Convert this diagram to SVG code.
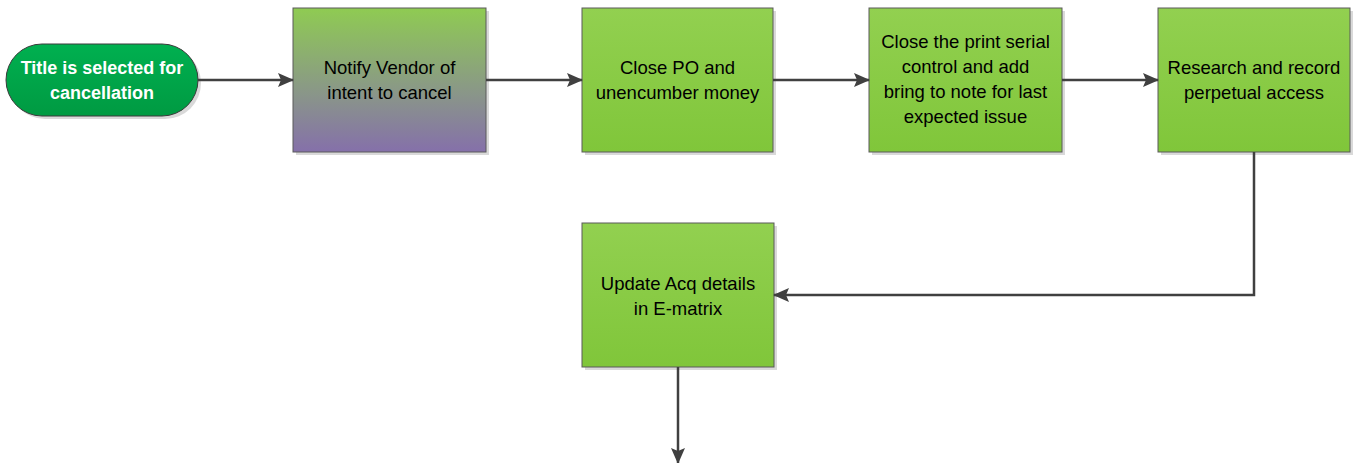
<svg xmlns="http://www.w3.org/2000/svg" width="1353" height="463" viewBox="0 0 1353 463">
<defs>
<linearGradient id="gGreen" x1="0" y1="0" x2="0" y2="1">
<stop offset="0" stop-color="#92D050"/>
<stop offset="1" stop-color="#80C63A"/>
</linearGradient>
<linearGradient id="gPurple" x1="0" y1="0" x2="0" y2="1">
<stop offset="0" stop-color="#8FCB52"/>
<stop offset="0.55" stop-color="#8A9A85"/>
<stop offset="1" stop-color="#8570AA"/>
</linearGradient>
<linearGradient id="gTerm" x1="0" y1="0" x2="0" y2="1">
<stop offset="0" stop-color="#00B050"/>
<stop offset="1" stop-color="#009A42"/>
</linearGradient>
<marker id="arr" markerWidth="16" markerHeight="14" refX="15" refY="7" orient="auto" markerUnits="userSpaceOnUse">
<path d="M0,0 L16,7 L0,14 L3,7 Z" fill="#404040"/>
</marker>
<style>
.box{stroke:#5a5a5a;stroke-width:1}
.shadow{fill:#d9d9d9}
.lbl{font-family:"Liberation Sans",Arial,sans-serif;font-size:18.5px;fill:#000;text-anchor:middle}
.tlbl{font-family:"Liberation Sans",Arial,sans-serif;font-size:18px;font-weight:bold;fill:#fff;text-anchor:middle}
.conn{fill:none;stroke:#404040;stroke-width:2.5}
</style>
</defs>
<g id="n-start">
<rect class="shadow" x="9" y="47" width="192" height="72" rx="36"/>
<rect x="6" y="44" width="192" height="72" rx="36" fill="url(#gTerm)" stroke="#3a3a3a" stroke-width="1"/>
<text class="tlbl" x="102" y="74">Title is selected for</text>
<text class="tlbl" x="102" y="99">cancellation</text>
</g>
<g id="n-notify">
<rect class="shadow" x="296" y="11" width="193" height="144"/>
<rect class="box" x="293" y="8" width="193" height="144" fill="url(#gPurple)"/>
<text class="lbl" x="389.5" y="74">Notify Vendor of</text>
<text class="lbl" x="389.5" y="99">intent to cancel</text>
</g>
<g id="n-closepo">
<rect class="shadow" x="585" y="11" width="191" height="144"/>
<rect class="box" x="582" y="8" width="191" height="144" fill="url(#gGreen)"/>
<text class="lbl" x="677.5" y="74">Close PO and</text>
<text class="lbl" x="677.5" y="99">unencumber money</text>
</g>
<g id="n-closeprint">
<rect class="shadow" x="872" y="11" width="193" height="144"/>
<rect class="box" x="869" y="8" width="193" height="144" fill="url(#gGreen)"/>
<text class="lbl" x="965.5" y="48">Close the print serial</text>
<text class="lbl" x="965.5" y="73">control and add</text>
<text class="lbl" x="965.5" y="98">bring to note for last</text>
<text class="lbl" x="965.5" y="123">expected issue</text>
</g>
<g id="n-research">
<rect class="shadow" x="1161" y="11" width="192" height="144"/>
<rect class="box" x="1158" y="8" width="192" height="144" fill="url(#gGreen)"/>
<text class="lbl" x="1254" y="74">Research and record</text>
<text class="lbl" x="1254" y="99">perpetual access</text>
</g>
<g id="n-update">
<rect class="shadow" x="585" y="226" width="192" height="144"/>
<rect class="box" x="582" y="223" width="192" height="144" fill="url(#gGreen)"/>
<text class="lbl" x="678" y="290">Update Acq details</text>
<text class="lbl" x="678" y="315">in E-matrix</text>
</g>
<g id="connectors">
<path class="conn" d="M198,80 L293,80" marker-end="url(#arr)"/>
<path class="conn" d="M486,80 L582,80" marker-end="url(#arr)"/>
<path class="conn" d="M773,80 L869,80" marker-end="url(#arr)"/>
<path class="conn" d="M1062,80 L1158,80" marker-end="url(#arr)"/>
<path class="conn" d="M1254,152 L1254,295 L774,295" marker-end="url(#arr)"/>
<path class="conn" d="M678,367 L678,463" marker-end="url(#arr)"/>
</g>
</svg>
